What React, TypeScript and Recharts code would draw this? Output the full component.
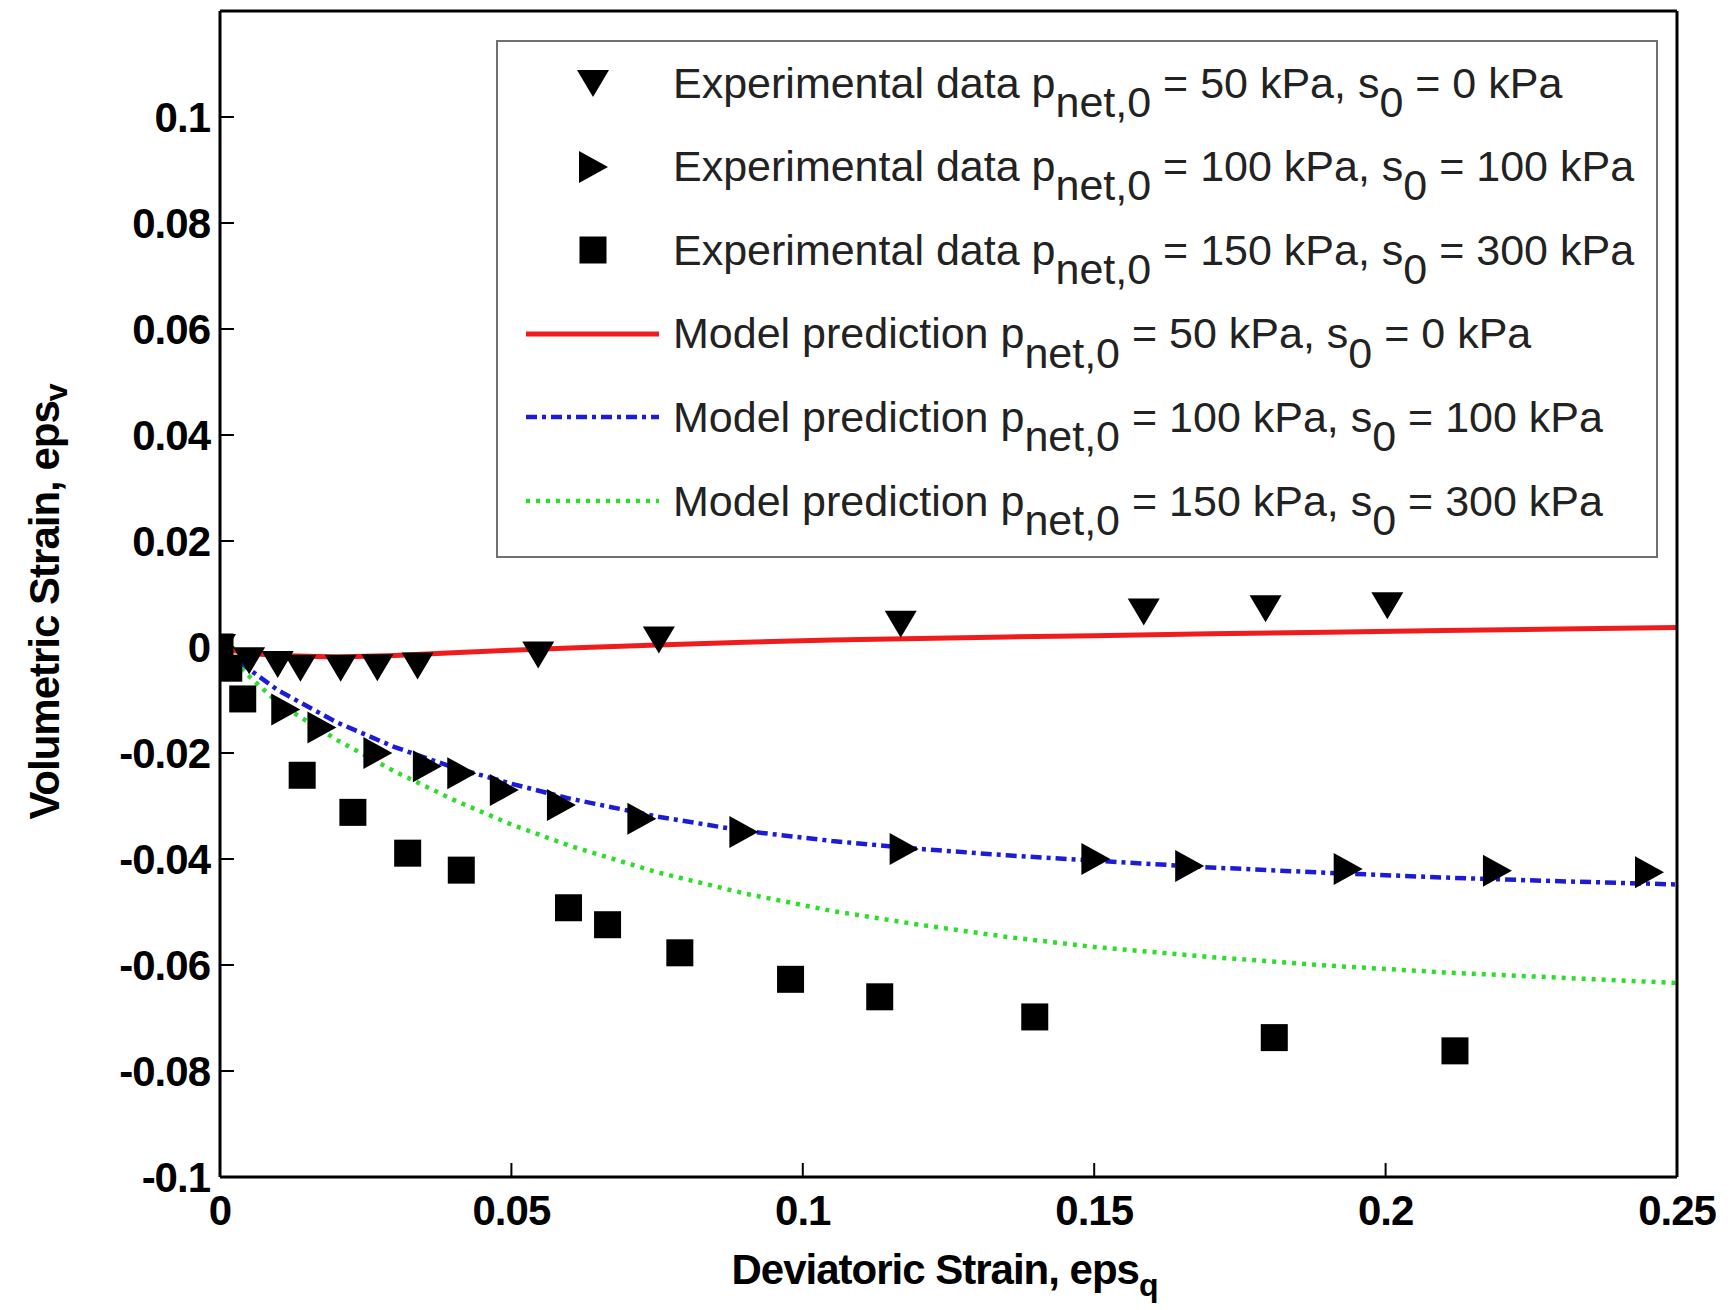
import React from 'react';
import { ComposedChart, Line, Scatter, XAxis, YAxis, Legend } from 'recharts';

// axis ticks
const xTicks = [0, 0.05, 0.1, 0.15, 0.2, 0.25];
const yTicks = [-0.1, -0.08, -0.06, -0.04, -0.02, 0, 0.02, 0.04, 0.06, 0.08, 0.1];

// experimental data, p_net,0 = 50 kPa, s0 = 0 kPa (down triangles)
const exp50X = [0, 0.005, 0.0099, 0.0138, 0.0207, 0.027, 0.0339, 0.0546, 0.0753, 0.1168, 0.1585, 0.1794, 0.2003];
const exp50Y = [0, -0.0025, -0.0032, -0.0039, -0.0039, -0.0038, -0.0035, -0.0014, 0.0014, 0.0044, 0.0067, 0.0073, 0.0079];

// experimental data, p_net,0 = 100 kPa, s0 = 100 kPa (right triangles)
const exp100X = [0, 0.0112, 0.0174, 0.027, 0.0355, 0.0414, 0.0487, 0.0585, 0.0723, 0.0898, 0.1173, 0.1502, 0.1663, 0.1935, 0.2191, 0.2452];
const exp100Y = [0, -0.0118, -0.0152, -0.02, -0.0225, -0.0238, -0.027, -0.0298, -0.0324, -0.0349, -0.0381, -0.04, -0.0413, -0.0419, -0.0422, -0.0425];

// experimental data, p_net,0 = 150 kPa, s0 = 300 kPa (squares)
const exp150X = [0, 0.0015, 0.0039, 0.0141, 0.0228, 0.0322, 0.0414, 0.0598, 0.0665, 0.0789, 0.0979, 0.1132, 0.1398, 0.1809, 0.2119];
const exp150Y = [0, -0.004, -0.0098, -0.0242, -0.0312, -0.0389, -0.0421, -0.0492, -0.0524, -0.0577, -0.0627, -0.066, -0.0698, -0.0737, -0.0762];

// model predictions
const modelX = [0, 0.005, 0.01, 0.02, 0.03, 0.04, 0.05, 0.06, 0.075, 0.09, 0.105, 0.12, 0.135, 0.15, 0.17, 0.19, 0.21, 0.23, 0.25];
const model50Y = [-0.0003, -0.0012, -0.0016, -0.0019, -0.0016, -0.0011, -0.0006, -0.0002, 0.0004, 0.0009, 0.0013, 0.0016, 0.0019, 0.0021, 0.0025, 0.0028, 0.0031, 0.0034, 0.0037];
const model100Y = [0, -0.0042, -0.0082, -0.0142, -0.0189, -0.0227, -0.0258, -0.0286, -0.032, -0.0347, -0.0366, -0.0381, -0.0393, -0.0403, -0.0416, -0.0426, -0.0435, -0.0442, -0.0448];
const model150Y = [0, -0.0055, -0.0106, -0.0175, -0.0235, -0.0288, -0.0335, -0.0375, -0.0425, -0.0465, -0.0498, -0.0524, -0.0547, -0.0566, -0.0585, -0.0601, -0.0614, -0.0624, -0.0634];

const pressures = ['50', '100', '150'];
const suctions = ['0', '100', '300'];

const FONT = '"Liberation Sans", Arial, Helvetica, sans-serif';
const RED = '#f01c1c';
const BLUE = '#1c1cd8';
const GREEN = '#2ade2a';
const DASHDOT = '11 5 4 5';
const DOTTED = '4 6';

const pts = (xs: number[], ys: number[]) => xs.map((x, i) => ({ x, y: ys[i] }));

const fmt = (v: number) => String(Number(v.toFixed(2)));

const downTri = (cx: number, cy: number) => (
  <path d={`M${cx - 16},${cy - 13}L${cx + 16},${cy - 13}L${cx},${cy + 14}Z`} fill="#000" />
);
const rightTri = (cx: number, cy: number) => (
  <path d={`M${cx - 14},${cy - 16}L${cx + 15},${cy}L${cx - 14},${cy + 16}Z`} fill="#000" />
);
const square = (cx: number, cy: number) => (
  <rect x={cx - 13.5} y={cy - 13.5} width={27} height={27} fill="#000" />
);

const sub: React.CSSProperties = { position: 'relative', top: '0.45em' };

const legendIcons = [
  <g>{downTri(95, 40)}</g>,
  <g>{rightTri(95, 40)}</g>,
  <g>{square(95, 40)}</g>,
  <line x1={28} x2={161} y1={40} y2={40} stroke={RED} strokeWidth={5} />,
  <line x1={28} x2={161} y1={40} y2={40} stroke={BLUE} strokeWidth={4.5} strokeDasharray={DASHDOT} />,
  <line x1={28} x2={161} y1={40} y2={40} stroke={GREEN} strokeWidth={4.5} strokeDasharray={DOTTED} />,
];
const legendLeads = ['Experimental data', 'Experimental data', 'Experimental data', 'Model prediction', 'Model prediction', 'Model prediction'];

const LegendBox = () => (
  <div
    style={{
      position: 'relative',
      width: 1162,
      height: 518,
      boxSizing: 'border-box',
      border: '2px solid #707070',
      background: '#fff',
      fontFamily: FONT,
      fontSize: 43,
      color: '#222',
    }}
  >
    {legendLeads.map((lead, i) => (
      <div
        key={i}
        style={{
          position: 'absolute',
          left: 0,
          top: 1 + i * 83.6,
          height: 80,
          display: 'flex',
          alignItems: 'center',
          whiteSpace: 'nowrap',
        }}
      >
        <svg width={175} height={80} style={{ flex: 'none' }}>
          {legendIcons[i]}
        </svg>
        <span>
          {lead} p<span style={sub}>net,0</span> = {pressures[i % 3]} kPa, s<span style={sub}>0</span> ={' '}
          {suctions[i % 3]} kPa
        </span>
      </div>
    ))}
  </div>
);

const XTitle = ({ viewBox }: any) => {
  const cx = viewBox.x + viewBox.width / 2 - 4;
  const y = viewBox.y + 107;
  return (
    <text x={cx} y={y} textAnchor="middle" fill="#000" fontFamily={FONT} fontSize={42} fontWeight={700} letterSpacing={-1}>
      Deviatoric Strain, eps
      <tspan dy={12} fontSize={32}>q</tspan>
    </text>
  );
};

const YTitle = ({ viewBox }: any) => {
  const cx = 36;
  const cy = viewBox.y + viewBox.height / 2 + 8;
  return (
    <text
      x={cx}
      y={cy}
      transform={`rotate(-90 ${cx} ${cy})`}
      textAnchor="middle"
      dominantBaseline="central"
      fill="#000"
      fontFamily={FONT}
      fontSize={42}
      fontWeight={700}
      letterSpacing={-1}
    >
      Volumetric Strain, eps
      <tspan dy={12} fontSize={32}>v</tspan>
    </text>
  );
};

const tickStyle = { fill: '#000', fontSize: 42, fontWeight: 700, fontFamily: FONT, letterSpacing: -1 };
const axisLine = { stroke: '#000', strokeWidth: 3 };
const tickLine = { stroke: '#000', strokeWidth: 2 };

export default function App() {
  return (
    <ComposedChart width={1725} height={1302} margin={{ top: 2, right: 55, bottom: 33, left: 0 }}>
      <XAxis
        type="number"
        dataKey="x"
        domain={[0, 0.25]}
        ticks={xTicks}
        allowDataOverflow
        height={100}
        tickSize={-14}
        tickMargin={32}
        axisLine={axisLine}
        tickLine={tickLine}
        tick={tickStyle}
        tickFormatter={fmt}
        label={(p: any) => <XTitle {...p} />}
      />
      <XAxis
        xAxisId="top"
        orientation="top"
        type="number"
        domain={[0, 0.25]}
        ticks={xTicks}
        allowDataOverflow
        height={1}
        tickSize={-14}
        axisLine={axisLine}
        tickLine={tickLine}
        tick={false}
      />
      <YAxis
        type="number"
        dataKey="y"
        domain={[-0.1, 0.12]}
        ticks={yTicks}
        allowDataOverflow
        width={212}
        tickSize={-14}
        tickMargin={24}
        axisLine={axisLine}
        tickLine={tickLine}
        tick={tickStyle}
        tickFormatter={fmt}
        label={(p: any) => <YTitle {...p} />}
      />
      <YAxis
        yAxisId="right"
        orientation="right"
        type="number"
        domain={[-0.1, 0.12]}
        ticks={yTicks}
        allowDataOverflow
        width={1}
        tickSize={-14}
        axisLine={axisLine}
        tickLine={tickLine}
        tick={false}
      />
      <Legend
        layout="vertical"
        align="center"
        verticalAlign="middle"
        wrapperStyle={{ left: 488, top: 32, width: 1162, height: 518 }}
        content={() => <LegendBox />}
      />
      <Scatter data={pts(exp50X, exp50Y)} dataKey="y" shape={(p: any) => downTri(p.cx, p.cy)} isAnimationActive={false} />
      <Scatter data={pts(exp100X, exp100Y)} dataKey="y" shape={(p: any) => rightTri(p.cx, p.cy)} isAnimationActive={false} />
      <Scatter data={pts(exp150X, exp150Y)} dataKey="y" shape={(p: any) => square(p.cx, p.cy)} isAnimationActive={false} />
      <Line data={pts(modelX, model50Y)} dataKey="y" type="linear" stroke={RED} strokeWidth={5} dot={false} isAnimationActive={false} />
      <Line
        data={pts(modelX, model100Y)}
        dataKey="y"
        type="linear"
        stroke={BLUE}
        strokeWidth={4.5}
        strokeDasharray={DASHDOT}
        dot={false}
        isAnimationActive={false}
      />
      <Line
        data={pts(modelX, model150Y)}
        dataKey="y"
        type="linear"
        stroke={GREEN}
        strokeWidth={4.5}
        strokeDasharray={DOTTED}
        dot={false}
        isAnimationActive={false}
      />
    </ComposedChart>
  );
}
